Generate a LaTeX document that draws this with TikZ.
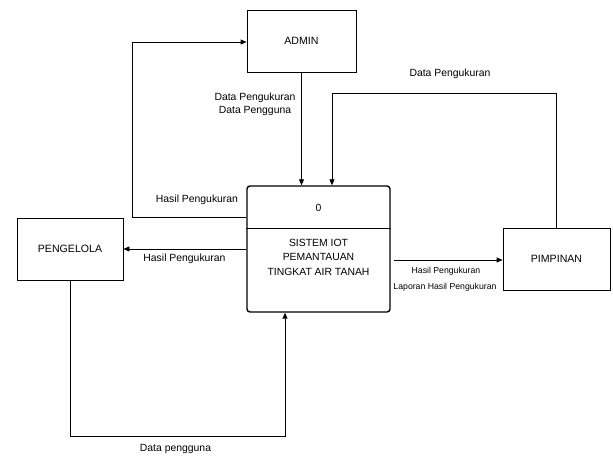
\documentclass[tikz,border=0pt]{standalone}
\usepackage{fontspec}
\setmainfont{Liberation Sans}
\usetikzlibrary{arrows.meta}
\begin{document}
\begin{tikzpicture}[x=1pt,y=-1pt,
  entity/.style={draw,line width=0.8pt,minimum width=#1,minimum height=62pt,inner sep=0pt,font=\fontsize{10.6}{12}\selectfont},
  proc/.style={draw,line width=1.4pt,rounded corners=3pt,minimum width=143pt,minimum height=126pt,inner sep=0pt},
  flow/.style={line width=0.8pt,-{Triangle[length=6pt,width=5pt]}},
  lbl/.style={font=\fontsize{10.4}{13}\selectfont,align=center,inner sep=0pt},
  slbl/.style={font=\fontsize{8.7}{10}\selectfont,align=center,inner sep=0pt}]
\useasboundingbox (0,0) rectangle (613,456);

% external entities
\node[entity=109pt] (admin) at (301.5,41) {ADMIN};
\node[entity=106pt] (pengelola) at (70,249) {PENGELOLA};
\node[entity=107pt] (pimpinan) at (556.5,259) {PIMPINAN};

% process
\node[proc] (sys) at (318.5,249) {};
\draw[line width=1pt] (sys.west |- 0,228) -- (sys.east |- 0,228);
\node[lbl] (num) at (318.5,208) {0};
\node[lbl,font=\fontsize{10.4}{14.5}\selectfont] (title) at (318.5,257) {SISTEM IOT\\PEMANTAUAN\\TINGKAT AIR TANAH};

% bend points
\coordinate (bendR) at (332,93);
\coordinate (bendL) at (132,42);
\coordinate (bendB) at (285,436);

% flows
\draw[flow] (admin.south) -- (admin.south |- sys.north);
\draw[flow] (pimpinan.north) |- (bendR) -- (bendR |- sys.north);
\draw[flow] (sys.west |- 0,217) -| (bendL) -- (admin.west |- bendL);
\draw[flow] (sys.west |- pengelola.east) -- (pengelola.east);
\draw[flow] (pengelola.south) |- (bendB) -- (bendB |- sys.south);
\draw[flow] ([xshift=3pt]sys.east |- 0,260) -- (pimpinan.west |- 0,260);

% flow labels
\node[lbl] (l1) at (255,104) {Data Pengukuran\\Data Pengguna};
\node[lbl] (l2) at (450,74) {Data Pengukuran};
\node[lbl] (l3) at (197,200) {Hasil Pengukuran};
\node[lbl] (l4) at (184.5,259) {Hasil Pengukuran};
\node[lbl] (l5) at (175.5,449) {Data pengguna};
\node[slbl] (l6) at (446,271) {Hasil Pengukuran};
\node[slbl] (l7) at (445,287) {Laporan Hasil Pengukuran};
\end{tikzpicture}
\end{document}
